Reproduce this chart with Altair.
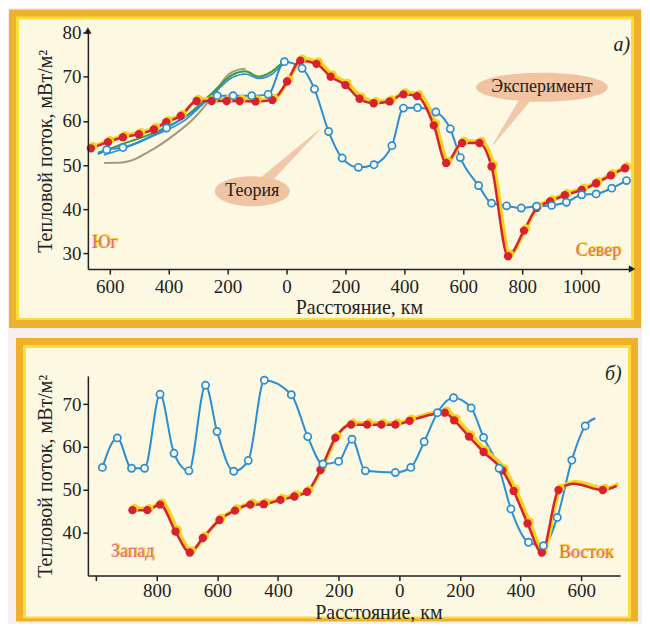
import altair as alt
import pandas as pd

# ---------------- panel a) : South - North ----------------
a_exp_x = [-664, -606, -555, -501, -450, -408, -359, -305, -254, -203, -159, -105, -48, 2, 47, 102, 150, 200,
           248, 296, 350, 397, 443, 500, 542, 596, 655, 696, 752, 806, 849, 895, 945, 1002, 1051, 1101, 1149]
a_exp_y = [53.8, 55.2, 56.3, 57.0, 58.1, 59.7, 61.1, 64.5, 64.5, 64.5, 64.5, 64.4, 64.7, 68.9, 73.6, 72.9, 70.0,
           68.1, 65.0, 64.0, 64.4, 66.0, 65.6, 59.0, 50.5, 55.0, 55.0, 49.7, 29.4, 35.2, 40.3, 41.8, 43.2, 44.4,
           45.9, 47.7, 49.3]

a_th_x = [-640, -610, -555, -407, -330, -235, -181, -118, -62, -7, 53, 95, 143, 189, 244, 297, 358, 397, 445,
          507, 556, 590, 652, 696, 747, 797, 849, 900, 950, 1002, 1051, 1104, 1154]
a_th_y = [52.8, 53.5, 54.0, 58.4, 61.5, 65.7, 65.7, 65.7, 66.0, 73.4, 71.9, 67.2, 57.6, 51.6, 49.5, 50.1, 54.4,
          62.9, 63.0, 62.0, 58.2, 51.7, 45.4, 41.4, 40.8, 40.3, 40.7, 40.9, 41.6, 43.3, 43.5, 44.8, 46.5]
a_th_m = [False, True, True, True, False] + [True] * 28

a_green_x = [-640, -580, -455, -342, -252, -184, -139, -94, -49, -15, 0]
a_green_y = [52.5, 54.2, 57.2, 61.0, 66.3, 70.4, 71.2, 70.0, 71.2, 73.0, 73.5]
a_thin_x = [-620, -560, -455, -342, -252, -184, -139, -94, -49, -15, 0]
a_thin_y = [52.3, 53.6, 56.5, 60.3, 65.8, 69.8, 70.6, 69.6, 70.6, 72.6, 73.3]
a_tan_x = [-619, -557, -455, -388, -308, -252, -197, -163, -139]
a_tan_y = [50.5, 50.6, 53.5, 56.5, 61.0, 65.5, 70.5, 71.6, 71.8]

# ---------------- panel б) : West - East ----------------
b_th_x = [-979, -930, -883, -840, -789, -743, -694, -639, -601, -546, -498, -445, -356, -302, -252, -200, -156,
          -112, -13, 38, 82, 126, 179, 237, 278, 329, 368, 426, 475, 521, 569, 613, 646]
b_th_y = [55.2, 62.1, 55.0, 55.0, 72.3, 58.5, 54.4, 74.4, 63.6, 54.3, 56.8, 75.6, 72.2, 62.4, 56.0, 56.6, 61.8,
          54.4, 54.0, 55.2, 61.2, 68.0, 71.5, 69.1, 62.2, 55.0, 45.5, 37.7, 36.9, 43.5, 56.9, 64.9, 66.7]
b_th_m = [True] * 32 + [False]

b_exp_x = [-880, -831, -789, -738, -691, -648, -593, -542, -491, -447, -392, -346, -304, -260, -211, -159, -106,
           -59, -13, 34, 90, 150, 181, 230, 278, 340, 377, 423, 470, 525, 575, 671, 717]
b_exp_y = [45.2, 45.2, 46.5, 40.2, 35.3, 38.7, 42.9, 45.1, 46.5, 46.6, 47.6, 48.4, 49.5, 54.6, 62.1, 65.2, 65.2,
           65.2, 65.2, 66.1, 67.3, 68.0, 66.2, 62.4, 58.8, 54.5, 49.7, 42.1, 35.3, 49.9, 51.4, 49.9, 50.9]
b_exp_m = [True] * 20 + [False] + [True] * 9 + [False, True, False]

# ---------------- styling ----------------
SERIF = "Liberation Serif, Times New Roman, serif"
RED, YEL, BLUE, GREEN, TAN = "#d8202e", "#f6d21a", "#2b8ed2", "#3c9a3c", "#a8987a"
PEACH = "#f0c3a2"
ORANGE, YSTRIPE, CREAM = "#efb02c", "#f8de3a", "#fcf8e2"
LBL = "#e66a80"


def frame(x0, x1, y0, y1, bot=10):
    base = alt.Chart(pd.DataFrame({"k": [0]}))
    return [
        base.mark_rect(color=ORANGE).encode(x=alt.value(x0), x2=alt.value(x1), y=alt.value(y0), y2=alt.value(y1)),
        base.mark_rect(color=YSTRIPE).encode(x=alt.value(x0 + 7), x2=alt.value(x1 - 7), y=alt.value(y0 + 7),
                                             y2=alt.value(y1 - bot + 2)),
        base.mark_rect(color=CREAM).encode(x=alt.value(x0 + 10), x2=alt.value(x1 - 10), y=alt.value(y0 + 10),
                                           y2=alt.value(y1 - bot)),
    ]


def df(xs, ys, m=None):
    d = pd.DataFrame({"x": xs, "y": ys})
    if m is not None:
        d["m"] = m
    return d


def series_layers(X, Y, exp_df, th_df, extra=()):
    layers = list(extra)
    layers.append(alt.Chart(th_df).mark_line(color=BLUE, strokeWidth=2, interpolate="monotone").encode(x=X, y=Y))
    layers.append(alt.Chart(exp_df).mark_line(color=YEL, strokeWidth=3.5, interpolate="monotone",
                                              xOffset=2, yOffset=-2).encode(x=X, y=Y))
    layers.append(alt.Chart(exp_df).mark_line(color=RED, strokeWidth=2.5, interpolate="monotone").encode(x=X, y=Y))
    ed = exp_df[exp_df["m"]] if "m" in exp_df else exp_df
    layers.append(alt.Chart(ed).mark_circle(color=YEL, size=72, opacity=1, xOffset=2, yOffset=-2).encode(x=X, y=Y))
    layers.append(alt.Chart(ed).mark_circle(color=RED, size=70, opacity=1).encode(x=X, y=Y))
    td = th_df[th_df["m"]]
    layers.append(alt.Chart(td).mark_point(shape="circle", filled=True, fill="#fdfcf4", stroke=BLUE,
                                           strokeWidth=1.7, size=52, opacity=1).encode(x=X, y=Y))
    return layers


def labels(X, Y, items, size=18):
    out = []
    d = pd.DataFrame(items, columns=["x", "y", "t"])
    out.append(alt.Chart(d).mark_text(font=SERIF, fontSize=size, color=YEL, dx=1.5, dy=-1.5).encode(
        x=X, y=Y, text="t:N"))
    out.append(alt.Chart(d).mark_text(font=SERIF, fontSize=size, color=LBL).encode(x=X, y=Y, text="t:N"))
    return out


def bubble(X, Y, cx, cy, w, h, text, tail):
    ry = round(h / w, 3)
    path = f"M -1 0 A 1 {ry} 0 1 1 1 0 A 1 {ry} 0 1 1 -1 0 Z"
    tdf = pd.DataFrame({"x": [tail[0], tail[2]], "y": [tail[1], tail[3]], "w": [11, 1]})
    bdf = pd.DataFrame({"x": [cx], "y": [cy], "t": [text]})
    return [
        alt.Chart(tdf).mark_trail(color=PEACH, opacity=0.9).encode(
            x=X, y=Y, size=alt.Size("w:Q", scale=None, legend=None)),
        alt.Chart(bdf).mark_point(shape=path, size=w * w, filled=True, fill=PEACH, opacity=1,
                                  strokeWidth=0).encode(x=X, y=Y),
        alt.Chart(bdf).mark_text(font=SERIF, fontSize=18, color="#222").encode(x=X, y=Y, text="t:N"),
    ]


AX = dict(domainColor="#222", domainWidth=1.5, tickColor="#222", tickWidth=1.5, tickSize=5, grid=False,
          labelFont=SERIF, labelFontSize=19, labelColor="#222", titleFont=SERIF, titleFontSize=20,
          titleFontWeight="normal", titleColor="#222", zindex=1)
YTITLE = "Тепловой поток, мВт/м²"
XTITLE = "Расстояние, км"

# ---------- panel a ----------
WA, HA = 543, 237
Xa = alt.X("x:Q", scale=alt.Scale(domain=[-674, 1166], nice=False, zero=False),
           axis=alt.Axis(values=[-600, -400, -200, 0, 200, 400, 600, 800, 1000], labelExpr="abs(datum.value)",
                         title=XTITLE, labelPadding=3, titlePadding=1, **AX))
Ya = alt.Y("y:Q", scale=alt.Scale(domain=[26.5, 80], nice=False, zero=False),
           axis=alt.Axis(values=[30, 40, 50, 60, 70, 80], title=YTITLE, titlePadding=6, labelPadding=2, **AX))

a_exp = df(a_exp_x, a_exp_y)
a_th = df(a_th_x, a_th_y, a_th_m)
extra_a = [
    alt.Chart(df(a_tan_x, a_tan_y)).mark_line(color=TAN, strokeWidth=2, interpolate="monotone").encode(x=Xa, y=Ya),
    alt.Chart(df(a_thin_x, a_thin_y)).mark_line(color=BLUE, strokeWidth=1.6, interpolate="monotone").encode(x=Xa, y=Ya),
    alt.Chart(df(a_green_x, a_green_y)).mark_line(color=GREEN, strokeWidth=2, interpolate="monotone").encode(x=Xa, y=Ya),
]
arrow_base = alt.Chart(pd.DataFrame({"k": [0]}))
layers_a = frame(-79, 554, -23, 296)
layers_a += bubble(Xa, Ya, -116, 44.1, 75, 30, "Теория", (-80, 46.0, 112, 58.0))
layers_a += bubble(Xa, Ya, 867, 67.6, 132, 29, "Эксперимент", (820, 65.8, 703, 54.8))
layers_a += series_layers(Xa, Ya, a_exp, a_th, extra_a)
layers_a += labels(Xa, Ya, [(-617, 32.3, "Юг"), (1058, 30.5, "Север")])
layers_a.append(alt.Chart(pd.DataFrame({"x": [1138], "y": [77.2], "t": ["а)"]})).mark_text(
    font=SERIF, fontSize=20, fontStyle="italic", color="#222").encode(x=Xa, y=Ya, text="t:N"))
layers_a.append(arrow_base.mark_point(shape="triangle-up", filled=True, color="#222", size=55, opacity=1).encode(
    x=alt.value(0), y=alt.value(-2)))
layers_a.append(arrow_base.mark_point(shape="triangle-right", filled=True, color="#222", size=55, opacity=1).encode(
    x=alt.value(WA + 2), y=alt.value(HA)))
panel_a = alt.layer(*layers_a).properties(width=WA, height=HA)

# ---------- panel b ----------
WB, HB = 533, 200
Xb = alt.X("x:Q", scale=alt.Scale(domain=[-1027, 728], nice=False, zero=False),
           axis=alt.Axis(values=[-1000, -800, -600, -400, -200, 0, 200, 400, 600],
                         labelExpr="datum.value == -1000 ? '' : abs(datum.value)",
                         title=XTITLE, labelPadding=1, titlePadding=2, titleX=291, **AX))
Yb = alt.Y("y:Q", scale=alt.Scale(domain=[29.9, 76.6], nice=False, zero=False),
           axis=alt.Axis(values=[40, 50, 60, 70], title=YTITLE, titlePadding=6, labelPadding=2, **AX))

b_exp = df(b_exp_x, b_exp_y, b_exp_m)
b_th = df(b_th_x, b_th_y, b_th_m)
layers_b = frame(-72, 551, -38, 246, bot=5)
layers_b += series_layers(Xb, Yb, b_exp, b_th)
layers_b += labels(Xb, Yb, [(-880, 35.3, "Запад"), (616, 35.1, "Восток")])
layers_b.append(alt.Chart(pd.DataFrame({"x": [706], "y": [77.0], "t": ["б)"]})).mark_text(
    font=SERIF, fontSize=20, fontStyle="italic", color="#222").encode(x=Xb, y=Yb, text="t:N"))
panel_b = alt.layer(*layers_b).properties(width=WB, height=HB)

chart = alt.vconcat(panel_a, panel_b, spacing=107, bounds="flush").properties(
    padding=0, background="#f7eff0"
).configure_view(stroke="transparent")

chart.save("out.html", embed_options={"renderer": "svg", "actions": False})
